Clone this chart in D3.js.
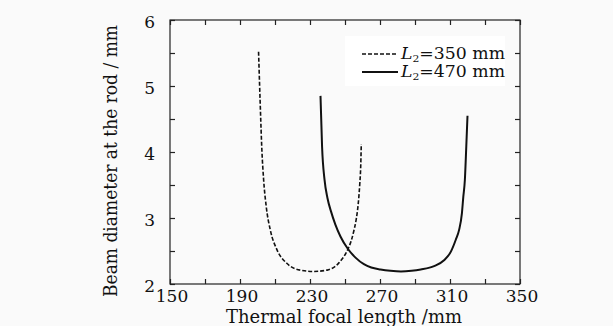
<!DOCTYPE html>
<html><head><meta charset="utf-8">
<script src="https://cdn.jsdelivr.net/npm/d3@7"></script>
<style>
body{margin:0;background:#fafafa;}
svg{display:block;}
text{font-family:"DejaVu Serif","Liberation Serif",serif;fill:#111;}
</style></head>
<body>
<svg id="c" width="613" height="326"></svg>
<script>
// Data
const xTicksMajor = [150,190,230,270,310,350];
const yTicksMajor = [2,3,4,5,6];
const seriesNames = ["350 mm","470 mm"];
const l350x = [200.6,201.6,202.5,203.5,205,207.3,211.1,216.9,224.5,232.1,239.8,246.5,251.7,253.5,255,256.4,257.5,258.4,259,259.3];
const l350y = [5.52,4.69,4.03,3.58,3.17,2.82,2.52,2.31,2.21,2.19,2.21,2.32,2.53,2.65,2.8,2.98,3.2,3.5,3.8,4.12];
const l470x = [236,236.9,238.3,240,242,244.5,247.4,251.7,256,260.8,265,270.3,276,282,288,293.3,300.9,306.6,310.5,313.3,315.2,316.8,317.6,318.5,319.3,320];
const l470y = [4.85,4.08,3.58,3.3,3.1,2.9,2.72,2.53,2.4,2.3,2.25,2.22,2.2,2.19,2.2,2.22,2.27,2.36,2.49,2.67,2.82,3.07,3.32,3.58,4.08,4.55];

const svg = d3.select("#c");
const m = {l:170, r:520, t:20, b:284};
const x = d3.scaleLinear().domain([150,350]).range([m.l,m.r]);
const y = d3.scaleLinear().domain([2,6]).range([m.b,m.t]);

// legend background
svg.append("rect").attr("x",345).attr("y",36).attr("width",160).attr("height",50).attr("fill","#ffffff");

// frame
svg.append("rect").attr("x",m.l).attr("y",m.t).attr("width",m.r-m.l).attr("height",m.b-m.t)
  .attr("fill","none").attr("stroke","#222").attr("stroke-width",1.2);

const xAll = d3.range(150,351,20);
const yAll = d3.range(2,6.01,0.5);
const tk = 5;
svg.append("g").attr("transform",`translate(0,${m.b})`)
  .call(d3.axisBottom(x).tickValues(xAll).tickSize(-tk).tickFormat(""))
  .call(g=>g.select(".domain").remove());
svg.append("g").attr("transform",`translate(0,${m.t})`)
  .call(d3.axisTop(x).tickValues(xAll).tickSize(-tk).tickFormat(""))
  .call(g=>g.select(".domain").remove());
svg.append("g").attr("transform",`translate(${m.l},0)`)
  .call(d3.axisLeft(y).tickValues(yAll).tickSize(-tk).tickFormat(""))
  .call(g=>g.select(".domain").remove());
svg.append("g").attr("transform",`translate(${m.r},0)`)
  .call(d3.axisRight(y).tickValues(yAll).tickSize(-tk).tickFormat(""))
  .call(g=>g.select(".domain").remove());
svg.selectAll(".tick line").attr("stroke","#222").attr("stroke-width",1.2);

// tick labels
svg.append("g").selectAll("text").data(xTicksMajor).join("text")
  .attr("x",d=>x(d)+2).attr("y",302).attr("text-anchor","middle")
  .attr("font-size",17).text(d=>d);
svg.append("g").selectAll("text").data(yTicksMajor).join("text")
  .attr("x",155).attr("y",d=>y(d)+8).attr("text-anchor","end")
  .attr("font-size",17).text(d=>d);

// titles
svg.append("text").attr("x",344).attr("y",323).attr("text-anchor","middle")
  .attr("font-size",18).attr("textLength",236).attr("lengthAdjust","spacingAndGlyphs")
  .text("Thermal focal length /mm");
svg.append("text").attr("transform","translate(117,161) rotate(-90)").attr("text-anchor","middle")
  .attr("font-size",18).attr("textLength",272).attr("lengthAdjust","spacingAndGlyphs")
  .text("Beam diameter at the rod / mm");

// curves
const line = d3.line().x(d=>x(d[0])).y(d=>y(d[1])).curve(d3.curveMonotoneX);
const d350 = l350x.map((v,i)=>[v,l350y[i]]);
const d470 = l470x.map((v,i)=>[v,l470y[i]]);
svg.append("path").attr("d",line(d350)).attr("fill","none").attr("stroke","#111")
  .attr("stroke-width",1.6).attr("stroke-dasharray","4,2");
svg.append("path").attr("d",line(d470)).attr("fill","none").attr("stroke","#111")
  .attr("stroke-width",2);

// legend
const leg = [{n:seriesNames[0],dash:"4,2",w:1.6,yy:54},{n:seriesNames[1],dash:null,w:2,yy:72}];
leg.forEach(l=>{
  svg.append("line").attr("x1",362).attr("x2",398).attr("y1",l.yy).attr("y2",l.yy)
    .attr("stroke","#111").attr("stroke-width",l.w).attr("stroke-dasharray",l.dash);
  const t = svg.append("text").attr("x",401).attr("y",l.yy+5).attr("font-size",16)
    .attr("textLength",104).attr("lengthAdjust","spacingAndGlyphs");
  t.append("tspan").attr("font-style","italic").text("L");
  t.append("tspan").attr("font-size",10).attr("dy",3).text("2");
  t.append("tspan").attr("dy",-3).text("=" + l.n);
});
</script>
</body></html>
